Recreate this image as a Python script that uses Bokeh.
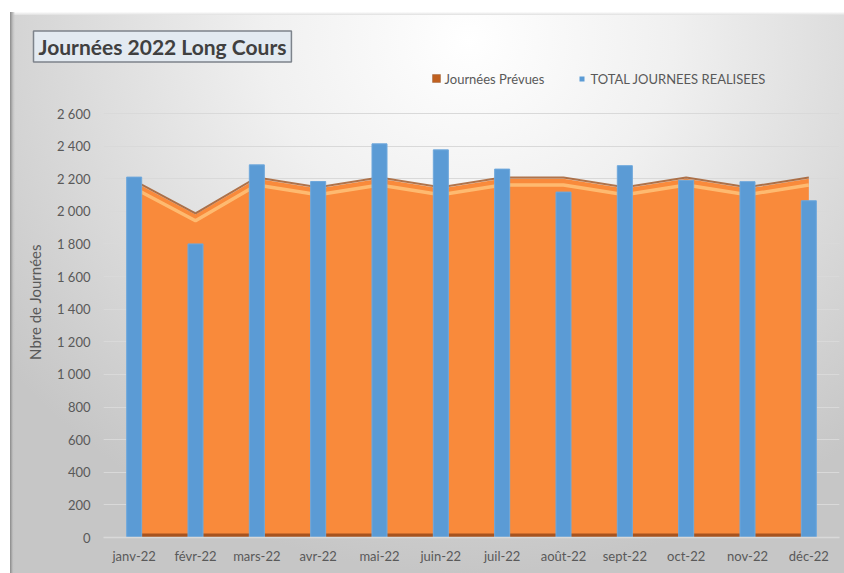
from bokeh.plotting import figure
from bokeh.models import Range1d, FixedTicker, Label, BoxAnnotation, Title
from bokeh.embed import file_html
from bokeh.resources import INLINE

# ---- data ----
months = ["janv-22", "févr-22", "mars-22", "avr-22", "mai-22", "juin-22",
          "juil-22", "août-22", "sept-22", "oct-22", "nov-22", "déc-22"]
prevues = [2180, 1980, 2200, 2140, 2200, 2140, 2200, 2200, 2140, 2200, 2140, 2200]
realisees = [2210, 1800, 2285, 2183, 2414, 2377, 2259, 2118, 2280, 2190, 2182, 2065]
y_ticks = [0, 200, 400, 600, 800, 1000, 1200, 1400, 1600, 1800, 2000, 2200, 2400, 2600]
y_tick_labels = ["0", "200", "400", "600", "800", "1 000", "1 200", "1 400",
                 "1 600", "1 800", "2 000", "2 200", "2 400", "2 600"]
title_text = "Journées 2022 Long Cours"
legend_labels = ["Journées Prévues", "TOTAL JOURNEES REALISEES"]
y_title = "Nbre de Journées"

FONT = "Lato"
GREY_TXT = "#595959"
ORANGE = "#F98A3B"
BLUE = "#5B9BD5"

W, H = 844, 573
FL, FR, FB = 103, 839, 537    # frame edges (page px)
GT = 113                      # page y of the top gridline (2600)
FT = 66                       # frame top (extended so the legend sits inside)
YMAX = 2600
YTOP = YMAX * (FB - FT) / (FB - GT)
n = len(months)
xs = list(range(n))

p = figure(width=W, height=H, output_backend="svg", toolbar_location=None,
           x_range=Range1d(-0.5, n - 0.5), y_range=Range1d(0, YTOP),
           min_border_left=FL, min_border_right=W - FR, min_border_top=FT,
           min_border_bottom=H - FB)
p.border_fill_color = None
p.background_fill_color = None
p.outline_line_color = None
p.styles = {
    "background-color": "#ffffff",
    "background-image": ("linear-gradient(to right, #8a8a8a, #c4c4c4 60%, rgba(200,200,200,0)), "
                         "linear-gradient(to bottom, #fdfdfd, #e0e0e0), "
                         "radial-gradient(ellipse 70% 95% at 55% 5%, #ffffff 0%, #f0f0f0 35%, #d8d8d8 72%, #c6c6c6 100%)"),
    "background-position": "10px 12px, 10px 12px, 10px 12px",
    "background-size": "5px calc(100% - 12px), 100% 3px, calc(100% - 10px) calc(100% - 12px)",
    "background-repeat": "no-repeat",
}

# axes
p.xaxis.ticker = FixedTicker(ticks=xs)
p.xaxis.major_label_overrides = {i: m for i, m in enumerate(months)}
p.yaxis.ticker = FixedTicker(ticks=y_ticks)
p.yaxis.major_label_overrides = {t: l for t, l in zip(y_ticks, y_tick_labels)}
for ax in (p.xaxis, p.yaxis):
    ax.major_tick_line_color = None
    ax.minor_tick_line_color = None
    ax.major_label_text_font = FONT
    ax.major_label_text_font_size = "13px"
    ax.major_label_text_color = GREY_TXT
p.xaxis.axis_line_color = "#d9d9d9"
p.xaxis.axis_line_width = 1.5
p.xaxis.major_label_standoff = 4
p.yaxis.axis_line_color = None
p.yaxis.major_label_standoff = 7
p.yaxis.axis_label = y_title
p.yaxis.axis_label_text_font = FONT
p.yaxis.axis_label_text_font_size = "15px"
p.yaxis.axis_label_text_font_style = "normal"
p.yaxis.axis_label_text_color = GREY_TXT
p.yaxis.axis_label_standoff = 10
p.xgrid.grid_line_color = None
p.ygrid.grid_line_color = "#d9d9d9"
p.ygrid.grid_line_width = 1

# 3D-looking area (Journées Prévues)
p.varea(x=xs, y1=[0] * n, y2=prevues, fill_color=ORANGE)
p.line(x=xs, y=[v + 8 for v in prevues], line_color="#9a4a14", line_width=2, line_alpha=0.75)
p.line(x=xs, y=[v - 38 for v in prevues], line_color="#FFC27A", line_width=3.5, line_alpha=0.85)
p.varea(x=xs, y1=[0] * n, y2=[24] * n, fill_color="#9C4D1D", fill_alpha=0.9)

# bars (TOTAL JOURNEES REALISEES)
p.vbar(x=xs, top=realisees, width=0.245, fill_color=BLUE, line_color="#6FA8DC", line_width=1)

# screen units are frame-relative, y up
def sx(px):
    return px - FL
def sy(py):
    return FB - py

def box(l, r, t, b, **kw):
    p.add_layout(BoxAnnotation(left=sx(l), right=sx(r), top=sy(t), bottom=sy(b),
                               left_units="screen", right_units="screen",
                               top_units="screen", bottom_units="screen",
                               level="overlay", **kw))

# title (in the panel above the frame)
title = Title(text=title_text, align="left", offset=33 - FL, standoff=9,
              text_font=FONT, text_font_size="21px", text_font_style="bold",
              text_color="#404040", background_fill_color="#e3eaf1",
              border_line_color="#7d838b", border_line_width=1.5, padding=(5, 3))
p.add_layout(title, "above")

# legend
box(432, 440, 74, 82, fill_color="#C0601F", fill_alpha=1, line_color="#7a3a10", line_width=1)
p.add_layout(Label(x=sx(444), y=sy(78), x_units="screen", y_units="screen",
                   text=legend_labels[0], text_font=FONT, text_font_size="13px",
                   text_color=GREY_TXT, text_baseline="middle"))
box(579, 584, 76, 81, fill_color=BLUE, fill_alpha=1, line_color=None)
p.add_layout(Label(x=sx(590), y=sy(78), x_units="screen", y_units="screen",
                   text=legend_labels[1], text_font=FONT, text_font_size="13px",
                   text_color=GREY_TXT, text_baseline="middle"))

open("out.html", "w").write(file_html(p, INLINE))
